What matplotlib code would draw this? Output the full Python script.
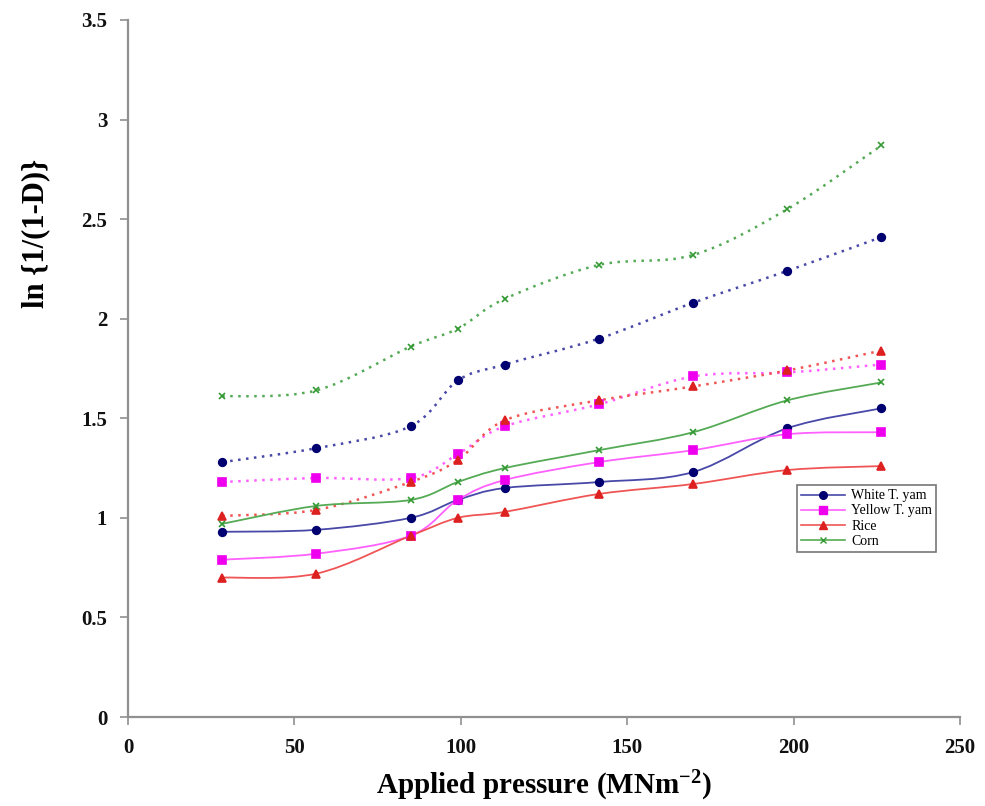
import matplotlib
matplotlib.use("Agg")
import matplotlib.pyplot as plt
from matplotlib.lines import Line2D
from matplotlib.path import Path
from matplotlib.patches import PathPatch

pressure = [28.3, 56.6, 84.9, 99.1, 113.2, 141.5, 169.8, 198.1, 226.4]

# solid series
white_solid = [0.93, 0.94, 1.00, 1.09, 1.15, 1.18, 1.23, 1.45, 1.55]
yellow_solid = [0.79, 0.82, 0.91, 1.09, 1.19, 1.28, 1.34, 1.42, 1.43]
rice_solid = [0.70, 0.72, 0.91, 1.00, 1.03, 1.12, 1.17, 1.24, 1.26]
corn_solid = [0.97, 1.06, 1.09, 1.18, 1.25, 1.34, 1.43, 1.59, 1.68]

# dotted series
white_dot = [1.28, 1.35, 1.46, 1.69, 1.77, 1.90, 2.08, 2.24, 2.41]
yellow_dot = [1.18, 1.20, 1.20, 1.32, 1.46, 1.57, 1.71, 1.73, 1.77]
rice_dot = [1.01, 1.04, 1.18, 1.29, 1.49, 1.59, 1.66, 1.74, 1.84]
corn_dot = [1.61, 1.64, 1.86, 1.95, 2.10, 2.27, 2.32, 2.55, 2.87]

labels = ["White T. yam", "Yellow T. yam", "Rice", "Corn"]
x_ticks = [0, 50, 100, 150, 200, 250]
y_ticks = [0, 0.5, 1, 1.5, 2, 2.5, 3, 3.5]
y_tick_labels = ["0", "0.5", "1", "1.5", "2", "2.5", "3", "3.5"]

line_colors = ["#4848a8", "#ff60ff", "#f05555", "#55aa55"]
marker_colors = ["#000070", "#ee00ee", "#dd2020", "#339933"]
markers = ["o", "s", "^", "x"]

plt.rcParams['font.family'] = ['Liberation Serif', 'DejaVu Serif']
plt.rcParams['mathtext.fontset'] = 'custom'
plt.rcParams['mathtext.rm'] = 'Liberation Serif:bold'
plt.rcParams['mathtext.bf'] = 'Liberation Serif:bold'
plt.rcParams['mathtext.default'] = 'rm'

fig = plt.figure(figsize=(9.85, 8.06), dpi=100)
ax = fig.add_axes([0.130, 0.1104, 0.8446, 0.8648])


def smooth_path(xs, ys):
    """Bezier path through the data points (Excel-like smoothed line)."""
    n = len(xs)
    verts = [(xs[0], ys[0])]
    codes = [Path.MOVETO]
    for i in range(n - 1):
        x0, y0 = (xs[i - 1], ys[i - 1]) if i > 0 else (xs[i], ys[i])
        x1, y1 = xs[i], ys[i]
        x2, y2 = xs[i + 1], ys[i + 1]
        x3, y3 = (xs[i + 2], ys[i + 2]) if i + 2 < n else (xs[i + 1], ys[i + 1])
        c1 = (x1 + (x2 - x0) / 6.0, y1 + (y2 - y0) / 6.0)
        c2 = (x2 - (x3 - x1) / 6.0, y2 - (y3 - y1) / 6.0)
        verts += [c1, c2, (x2, y2)]
        codes += [Path.CURVE4] * 3
    return Path(verts, codes)


solids = [white_solid, yellow_solid, rice_solid, corn_solid]
dots = [white_dot, yellow_dot, rice_dot, corn_dot]


def ms_of(m):
    return 4.5 if m == 'x' else 5.5


for i in range(4):
    ax.add_patch(PathPatch(smooth_path(pressure, dots[i]), fill=False,
                           edgecolor=line_colors[i], lw=1.8,
                           linestyle=(0, (1.0, 2.2)), zorder=2))
    ax.plot(pressure, dots[i], linestyle='none', marker=markers[i], ms=ms_of(markers[i]),
            mfc=marker_colors[i], mec=marker_colors[i], mew=1.2, zorder=4)

handles = []
for i in range(4):
    ax.add_patch(PathPatch(smooth_path(pressure, solids[i]), fill=False,
                           edgecolor=line_colors[i], lw=1.3, zorder=3))
    ax.plot(pressure, solids[i], linestyle='none', marker=markers[i], ms=ms_of(markers[i]),
            mfc=marker_colors[i], mec=marker_colors[i], mew=1.2, zorder=4)
    handles.append(Line2D([], [], color=line_colors[i], lw=1.2, marker=markers[i],
                          ms=ms_of(markers[i]), mfc=marker_colors[i],
                          mec=marker_colors[i]))

ax.set_xlim(0, 250)
ax.set_ylim(0, 3.5)
ax.set_xticks(x_ticks)
ax.set_yticks(y_ticks)
ax.set_yticklabels(y_tick_labels)
for lab in ax.get_xticklabels() + ax.get_yticklabels():
    lab.set_fontweight('bold')
    lab.set_fontsize(15)

for s in ['top', 'right']:
    ax.spines[s].set_visible(False)
for s in ['left', 'bottom']:
    ax.spines[s].set_color('#909090')
    ax.spines[s].set_linewidth(1.6)
ax.tick_params(axis='both', colors='#909090', length=6, width=1.2, labelcolor='#111111')
ax.tick_params(axis='y', pad=9)
ax.tick_params(axis='x', pad=9)

ax.set_ylabel("ln {1/(1-D)}", fontsize=22, fontweight='bold')
ax.yaxis.set_label_coords(-0.094, 0.694)
ax.set_xlabel("Applied pressure (MNm$^{-2}$)", fontsize=21, fontweight='bold', labelpad=8)

leg = ax.legend(handles, labels, loc='upper left', bbox_to_anchor=(0.809, 0.398),
                bbox_transform=fig.transFigure, fontsize=10, frameon=True, fancybox=False,
                edgecolor='#555555', handlelength=3.2, borderpad=0.3, labelspacing=0.15,
                handletextpad=0.4, borderaxespad=0)
leg.get_frame().set_linewidth(1.2)

fig.savefig("out.png", dpi=100)
